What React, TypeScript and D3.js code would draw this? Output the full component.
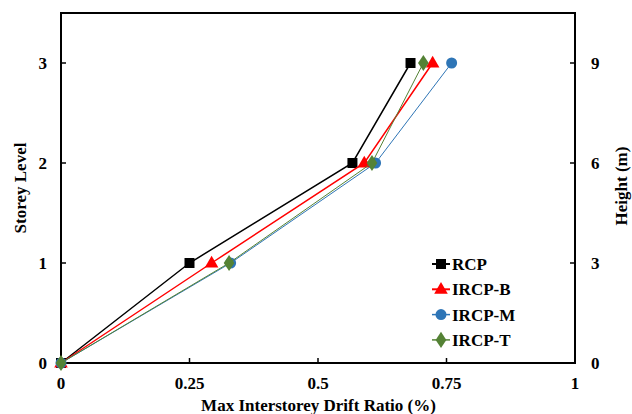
import React from "react";
import * as d3 from "d3";

const storeys = [0, 1, 2, 3];
const rcp = [0, 0.25, 0.567, 0.68];
const ircpB = [0, 0.293, 0.59, 0.723];
const ircpM = [0, 0.33, 0.612, 0.76];
const ircpT = [0, 0.327, 0.605, 0.705];
const xTicks = [0, 0.25, 0.5, 0.75, 1];
const yTicks = [0, 1, 2, 3];
const heightTicks = [0, 3, 6, 9];

const series = [
  { name: "RCP", values: rcp, color: "#000000", width: 1.5, shape: "square" },
  { name: "IRCP-B", values: ircpB, color: "#FF0000", width: 1.5, shape: "triangle" },
  { name: "IRCP-M", values: ircpM, color: "#2E75B6", width: 1, shape: "circle" },
  { name: "IRCP-T", values: ircpT, color: "#548235", width: 1, shape: "diamond" },
];

const W = 632, H = 414;
const L = 61, R = 575, T = 13, B = 363;

function Marker({ shape, x, y, color }: any) {
  if (shape === "square") return <rect x={x - 5} y={y - 5} width={10} height={10} fill={color} />;
  if (shape === "circle") return <circle cx={x} cy={y} r={5.5} fill={color} />;
  if (shape === "triangle") {
    const p = d3.symbol(d3.symbolTriangle, 80)()!;
    return <path d={p} transform={`translate(${x},${y + 0.5})`} fill={color} />;
  }
  const p = d3.symbol(d3.symbolDiamond, 75)()!;
  return <path d={p} transform={`translate(${x},${y}) scale(1.15,1)`} fill={color} />;
}

export default function App() {
  const x = d3.scaleLinear().domain([0, 1]).range([L, R]);
  const y = d3.scaleLinear().domain([0, 3.5]).range([B, T]);
  const yH = d3.scaleLinear().domain([0, 10.5]).range([B, T]);
  const line = d3.line<number>().x((d) => x(d)).y((_, i) => y(storeys[i]));
  const font = "'Liberation Serif', 'Times New Roman', serif";
  return (
    <svg width={W} height={H} style={{ position: "absolute", left: 0, top: 0, background: "#fff" }} fontFamily={font} fontWeight="bold">
      <rect x={0} y={0} width={W} height={H} fill="#fff" />
      {xTicks.map((t) => (
        <g key={"x" + t}>
          <line x1={x(t)} x2={x(t)} y1={B} y2={B - 5} stroke="#000" strokeWidth={1.5} />
          <text x={x(t)} y={B + 26} textAnchor="middle" fontSize={17}>{t}</text>
        </g>
      ))}
      {yTicks.map((t) => (
        <g key={"y" + t}>
          <line x1={L} x2={L + 5} y1={y(t)} y2={y(t)} stroke="#000" strokeWidth={1.5} />
          <text x={L - 14} y={y(t) + 6} textAnchor="end" fontSize={17}>{t}</text>
        </g>
      ))}
      {heightTicks.map((t) => (
        <g key={"h" + t}>
          <line x1={R} x2={R - 5} y1={yH(t)} y2={yH(t)} stroke="#000" strokeWidth={1.5} />
          <text x={R + 16} y={yH(t) + 6} textAnchor="start" fontSize={17}>{t}</text>
        </g>
      ))}
      <rect x={L} y={T} width={R - L} height={B - T} fill="none" stroke="#000" strokeWidth={2} />
      {series.map((s) => (
        <g key={s.name}>
          <path d={line(s.values)!} fill="none" stroke={s.color} strokeWidth={s.width} />
          {s.values.map((v, i) => (
            <Marker key={i} shape={s.shape} x={x(v)} y={y(storeys[i])} color={s.color} />
          ))}
        </g>
      ))}
      {series.map((s, i) => {
        const ly = 264 + i * 25.3;
        return (
          <g key={"lg" + s.name}>
            <line x1={432} x2={450} y1={ly} y2={ly} stroke={s.color} strokeWidth={s.width + 0.5} />
            <Marker shape={s.shape} x={441} y={ly} color={s.color} />
            <text x={452} y={ly + 6} fontSize={17}>{s.name}</text>
          </g>
        );
      })}
      <text x={(L + R) / 2 + 0.5} y={411} textAnchor="middle" fontSize={17}>Max Interstorey Drift Ratio (%)</text>
      <text transform={`translate(26,${(T + B) / 2}) rotate(-90)`} textAnchor="middle" fontSize={17}>Storey Level</text>
      <text transform={`translate(627,${(T + B) / 2 - 2}) rotate(-90)`} textAnchor="middle" fontSize={17}>Height (m)</text>
    </svg>
  );
}
